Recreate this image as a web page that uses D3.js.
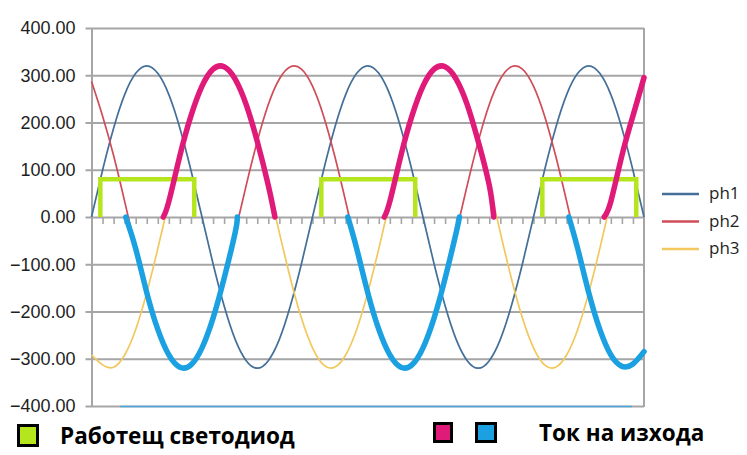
<!DOCTYPE html>
<html>
<head>
<meta charset="utf-8">
<script src="https://cdn.jsdelivr.net/npm/d3@7"></script>
<style>
  body { margin: 0; background: #fff; }
  svg { display: block; font-family: 'Open Sans', sans-serif; }
</style>
</head>
<body>
<svg width="747" height="455"></svg>
<script>
// time in ms, one sample per ms (50 Hz, 2.5 periods)
const times = d3.range(0, 51);
const ph1 = [0, 99, 188, 259, 304, 320, 304, 259, 188, 99, 0, -99, -188, -259, -304, -320, -304, -259, -188, -99,
  0, 99, 188, 259, 304, 320, 304, 259, 188, 99, 0, -99, -188, -259, -304, -320, -304, -259, -188, -99,
  0, 99, 188, 259, 304, 320, 304, 259, 188, 99, 0];
const ph2 = [287, 214, 130, 33, -67, -160, -238, -292, -318, -313, -277, -214, -130, -33, 67, 160, 238, 292, 318, 313,
  277, 214, 130, 33, -67, -160, -238, -292, -318, -313, -277, -214, -130, -33, 67, 160, 238, 292, 318, 313,
  277, 214, 130, 33, -67, -160, -238, -292, -318, -313, -285];
const ph3 = [-292, -313, -318, -292, -238, -160, -67, 33, 130, 214, 277, 313, 318, 292, 238, 160, 67, -33, -130, -214,
  -277, -313, -318, -292, -238, -160, -67, 33, 130, 214, 277, 313, 318, 292, 238, 160, 67, -33, -130, -214,
  -277, -313, -318, -292, -238, -160, -67, 33, 130, 214, 295];

const seriesNames = ['ph1', 'ph2', 'ph3'];
const seriesColors = ['#436f98', '#cf4d58', '#f2c85e'];

// working LED pulses: [start ms, end ms], level
const ledPulses = [[0.8, 9.3], [20.8, 29.3], [40.8, 49.3]];
const ledLevel = 80;

// output current, positive (magenta) and negative (blue) half-waves
const outPos = [
  [[6.5, 0], [7, 33], [8, 130], [9, 214], [10, 277], [11, 313], [12, 318], [13, 292], [14, 238], [15, 160], [16, 67], [16.6, 0]],
  [[26.5, 0], [27, 33], [28, 130], [29, 214], [30, 277], [31, 313], [32, 318], [33, 292], [34, 238], [35, 160], [36, 67], [36.4, 0]],
  [[46.4, 0], [47, 33], [48, 130], [49, 214], [50, 295]]
];
const outNeg = [
  [[3.1, 0], [4, -67], [5, -160], [6, -238], [7, -292], [8, -318], [9, -313], [10, -277], [11, -214], [12, -130], [13, -33], [13.2, 0]],
  [[23.2, 0], [24, -67], [25, -160], [26, -238], [27, -292], [28, -318], [29, -313], [30, -277], [31, -214], [32, -130], [33, -33], [33.3, 0]],
  [[43.2, 0], [44, -67], [45, -160], [46, -238], [47, -292], [48, -316], [49, -311], [50, -285]]
];

const yTicks = [400, 300, 200, 100, 0, -100, -200, -300, -400];

const PLOT = { left: 91.5, right: 644, top: 28, bottom: 406 };

const svg = d3.select('svg');

const x = d3.scaleLinear().domain([0, 50]).range([PLOT.left, PLOT.right]);
const y = d3.scaleLinear().domain([-400, 400]).range([PLOT.bottom, PLOT.top]);

// y axis with grid lines
const yAxis = svg
  .append('g')
  .attr('transform', `translate(${PLOT.left}, 0)`)
  .call(d3.axisLeft(y).tickValues(yTicks).tickFormat(d3.format('.2f')).tickSizeOuter(0).tickPadding(10));

yAxis.select('.domain').attr('stroke', '#a6a6a6').attr('stroke-width', 2);
yAxis.selectAll('.tick line')
  .attr('x1', PLOT.right - PLOT.left)
  .attr('stroke', '#a6a6a6')
  .attr('stroke-width', 1.8);
yAxis.selectAll('.tick text')
  .style('font-size', '18px')
  .attr('fill', '#1e1e1e');

// right border
svg.append('line')
  .attr('x1', PLOT.right).attr('x2', PLOT.right)
  .attr('y1', PLOT.top).attr('y2', PLOT.bottom + 1)
  .attr('stroke', '#a6a6a6')
  .attr('stroke-width', 2);

// small ticks on the zero line, every ms
const xAxis = svg
  .append('g')
  .attr('transform', `translate(0, ${y(0)})`)
  .call(d3.axisBottom(x).tickValues(d3.range(1, 50)).tickFormat('').tickSizeInner(7).tickSizeOuter(0));
xAxis.select('.domain').remove();
xAxis.selectAll('.tick line').attr('stroke', '#a6a6a6').attr('stroke-width', 1.6);

// thin light-blue line along the bottom
svg.append('line')
  .attr('x1', x(2.6)).attr('x2', x(48.9))
  .attr('y1', y(-400) + 0.5).attr('y2', y(-400) + 0.5)
  .attr('stroke', '#4ea6e0')
  .attr('stroke-width', 1.6);

// phases
const phaseLine = d3.line()
  .x((d, i) => x(times[i]))
  .y((d) => y(d))
  .curve(d3.curveNatural);

[ph1, ph2, ph3].forEach((s, i) => {
  svg.append('path')
    .attr('d', phaseLine(s))
    .attr('fill', 'none')
    .attr('stroke', seriesColors[i])
    .attr('stroke-width', 1.7);
});

// LED pulses
const ledLine = d3.line().x((d) => x(d[0])).y((d) => y(d[1]));
svg.append('g')
  .selectAll('path')
  .data(ledPulses)
  .join('path')
  .attr('d', (p) => ledLine([[p[0], 0], [p[0], ledLevel], [p[1], ledLevel], [p[1], 0]]))
  .attr('fill', 'none')
  .attr('stroke', '#b5e61d')
  .attr('stroke-width', 4.5);

// output current
const outLine = d3.line().x((d) => x(d[0])).y((d) => y(d[1])).curve(d3.curveNatural);
svg.append('g')
  .selectAll('path')
  .data(outPos)
  .join('path')
  .attr('d', outLine)
  .attr('fill', 'none')
  .attr('stroke', '#e01a79')
  .attr('stroke-width', 5.5)
  .attr('stroke-linecap', 'round');

svg.append('g')
  .selectAll('path')
  .data(outNeg)
  .join('path')
  .attr('d', outLine)
  .attr('fill', 'none')
  .attr('stroke', '#1ba1e2')
  .attr('stroke-width', 5.5)
  .attr('stroke-linecap', 'round');

// phase legend
const legend = svg.append('g').attr('transform', 'translate(662, 194)');
seriesNames.forEach((name, i) => {
  legend.append('line')
    .attr('x1', 0).attr('x2', 37)
    .attr('y1', i * 27.5).attr('y2', i * 27.5)
    .attr('stroke', seriesColors[i])
    .attr('stroke-width', 2.5);
  legend.append('text')
    .attr('x', 47)
    .attr('y', i * 27.5)
    .attr('dy', '0.32em')
    .style('font-size', '17px')
    .attr('fill', '#1e1e1e')
    .text(name);
});

// bottom legend
svg.append('rect')
  .attr('x', 18.5).attr('y', 425.5).attr('width', 19).attr('height', 20)
  .attr('fill', '#b5e61d').attr('stroke', '#000').attr('stroke-width', 3);
svg.append('text')
  .attr('x', 60).attr('y', 444)
  .style('font-size', '22.5px').style('font-weight', 'bold')
  .text('Работещ светодиод');

svg.append('rect')
  .attr('x', 434.5).attr('y', 423.5).attr('width', 17).attr('height', 18)
  .attr('fill', '#e01a79').attr('stroke', '#000').attr('stroke-width', 3);
svg.append('rect')
  .attr('x', 476.5).attr('y', 423.5).attr('width', 19).attr('height', 18)
  .attr('fill', '#1ba1e2').attr('stroke', '#000').attr('stroke-width', 3);
svg.append('text')
  .attr('x', 539).attr('y', 441)
  .style('font-size', '22.5px').style('font-weight', 'bold')
  .text('Ток на изхода');
</script>
</body>
</html>
